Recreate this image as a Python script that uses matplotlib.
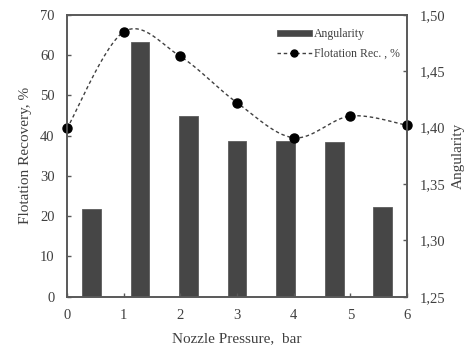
import numpy as np
import matplotlib.pyplot as plt

plt.rcParams['font.family'] = ['Liberation Serif', 'DejaVu Serif']

# Datos
pressure = [0, 1, 2, 3, 4, 5, 6]
flot_rec = [41.8, 65.8, 59.7, 48.2, 39.5, 44.9, 42.6]        # %
angularity = [1.328, 1.476, 1.410, 1.388, 1.388, 1.3875, 1.330]
left_ticks = [0, 10, 20, 30, 40, 50, 60, 70]
right_ticks = [1.25, 1.30, 1.35, 1.40, 1.45, 1.50]

gray = '#595959'
txt = '#404040'


# curva suavizada tipo Excel (Catmull-Rom -> Bezier)
def smooth(x, y, n=30):
    p = np.column_stack([x, y]).astype(float)
    out = []
    for i in range(len(p) - 1):
        p0 = p[max(i - 1, 0)]
        p1 = p[i]
        p2 = p[i + 1]
        p3 = p[min(i + 2, len(p) - 1)]
        b1 = p1 + (p2 - p0) / 6
        b2 = p2 - (p3 - p1) / 6
        t = np.linspace(0, 1, n)[:, None]
        seg = ((1 - t)**3 * p1 + 3 * (1 - t)**2 * t * b1
               + 3 * (1 - t) * t**2 * b2 + t**3 * p2)
        out.append(seg if i == 0 else seg[1:])
    out = np.vstack(out)
    return out[:, 0], out[:, 1]


fig = plt.figure(figsize=(4.7, 3.58), dpi=100)
ax1 = fig.add_axes([0.1426, 0.1712, 0.7234, 0.7869])
ax2 = ax1.twinx()

# barras (eje de categorías: 7 categorías repartidas en 0..6)
n = len(angularity)
step = 6 / n
xb = (np.arange(n) + 0.5) * step
bars = ax2.bar(xb, np.array(angularity) - 1.25, bottom=1.25, width=0.33,
               color='#464646', edgecolor='#5c5c5c', linewidth=0.6,
               label='Angularity', zorder=1)

# línea en el eje izquierdo, dibujada encima
ax1.set_zorder(ax2.get_zorder() + 1)
ax1.patch.set_visible(False)
sx, sy = smooth(pressure, flot_rec)
ax1.plot(sx, sy, linestyle=(0, (2.5, 2)), color='#404040', linewidth=1.0)
ax1.plot(pressure, flot_rec, 'o', color='black', markersize=6.5, clip_on=False)
line_handle = plt.Line2D([], [], linestyle=(0, (2.5, 2)), color='#404040',
                         linewidth=1.0, marker='o', markersize=5,
                         markerfacecolor='black', markeredgecolor='black')

ax1.set_xlim(0, 6)
ax1.set_ylim(0, 70)
ax2.set_ylim(1.25, 1.50)
ax1.set_yticks(left_ticks)
ax2.set_yticks(right_ticks)
ax2.set_yticklabels([f"{v:.2f}".replace('.', ',') for v in right_ticks])
ax1.set_xticks(pressure)

for ax in (ax1, ax2):
    for s in ax.spines.values():
        s.set_color(gray)
        s.set_linewidth(1.2)
    ax.tick_params(direction='in', length=3, width=1, color=gray,
                   labelsize=10.5, labelcolor=txt, pad=9)

ax1.set_xlabel("Nozzle Pressure,  bar", fontsize=11, color=txt, labelpad=7)
ax1.set_ylabel("Flotation Recovery, %", fontsize=11, color=txt, labelpad=6)
ax2.set_ylabel("Angularity", fontsize=11, color=txt, rotation=90, labelpad=5)

leg = ax1.legend([bars, line_handle], ['Angularity', 'Flotation Rec. , %'],
                 loc='upper right', bbox_to_anchor=(1.01, 0.99), frameon=False,
                 fontsize=8.5, handlelength=3.0, handleheight=0.35,
                 handletextpad=0.15, labelspacing=0.6)
for t in leg.get_texts():
    t.set_color(txt)

fig.savefig("out.png", dpi=100)
